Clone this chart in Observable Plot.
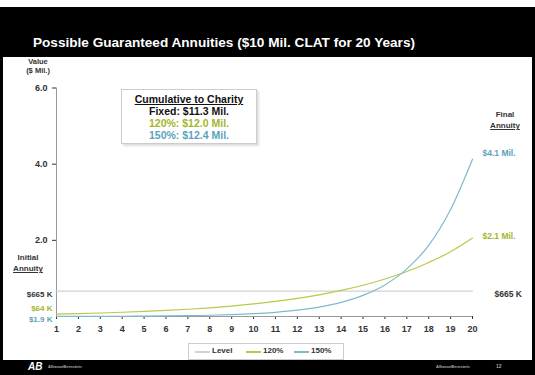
<!DOCTYPE html>
<html><head><meta charset="utf-8">
<script src="https://cdn.jsdelivr.net/npm/d3@7"></script>
<script src="https://cdn.jsdelivr.net/npm/@observablehq/plot@0.6"></script>
<style>
body{margin:0;background:#fff;font-family:"Liberation Sans",Arial,sans-serif;}
#frame{position:absolute;left:0;top:7px;width:535px;height:368px;background:#000;}
#title{position:absolute;left:33px;top:28px;color:#fff;font-weight:bold;font-size:13.6px;white-space:nowrap;}
#panel{position:absolute;left:3px;top:57px;width:529px;height:303px;background:#fff;}
.t{position:absolute;font-weight:bold;white-space:nowrap;line-height:1;}
#box{position:absolute;left:118px;top:32px;width:136px;height:55px;border:1px solid #ccc;box-shadow:2px 2px 2px #ddd;background:#fff;text-align:center;font-weight:bold;font-size:10.5px;line-height:12px;padding-top:3px;box-sizing:border-box;}
#legend{position:absolute;left:185px;top:286px;width:154px;height:15px;border:1px solid #ccc;font-size:8px;font-weight:bold;color:#333;}
.sw{position:absolute;top:7px;width:15px;height:1.5px;}
#foot{position:absolute;left:0;top:353px;width:535px;height:15px;}
</style></head>
<body>
<div id="frame">
  <div id="title"></div>
  <div id="foot">
    <div class="t" style="left:28px;top:2px;color:#fff;font-size:10px;font-style:italic;">AB</div>
    <div class="t" style="left:48px;top:5px;color:#aaa;font-size:4px;">AllianceBernstein</div>
    <div class="t" style="left:436px;top:5px;color:#aaa;font-size:4px;">AllianceBernstein</div>
    <div class="t" style="left:496px;top:4px;color:#aaa;font-size:5px;">12</div>
  </div>
</div>
<div id="panel"></div>
<script>
const titleText = "Possible Guaranteed Annuities ($10 Mil. CLAT for 20 Years)";
const years = [1,2,3,4,5,6,7,8,9,10,11,12,13,14,15,16,17,18,19,20];
const level = 0.665;
const ann120 = [0.064,0.077,0.092,0.111,0.133,0.159,0.191,0.229,0.275,0.330,0.396,0.475,0.570,0.684,0.821,0.985,1.18,1.42,1.70,2.06];
const ann150 = [0.0019,0.0029,0.0043,0.0064,0.0096,0.0144,0.0216,0.0325,0.049,0.073,0.110,0.165,0.247,0.370,0.555,0.83,1.25,1.87,2.81,4.13];
const yTicks = [2,4,6];
const seriesNames = ["Level","120%","150%"];
const colors = ["#d2d2d2","#bcc84a","#7fbacb"];
const labelColors = ["#333","#a3b52c","#5aa3bb"];
const initialLabels = ["$665 K","$64 K","$1.9 K"];
const finalLabels = ["$665 K","$2.1 Mil.","$4.1 Mil."];
const charityLines = ["Fixed: $11.3 Mil.","120%: $12.0 Mil.","150%: $12.4 Mil."];

document.getElementById("title").textContent = titleText;

const rows = years.flatMap((y,i)=>[
  {year:y,v:level,s:"Level"},{year:y,v:ann120[i],s:"120%"},{year:y,v:ann150[i],s:"150%"}]);
const last = years.length-1;
const startVals = [level, ann120[0], ann150[0]];
const endVals = [level, ann120[last], ann150[last]];
const startDy = [3,-6,3];
const endDy = [3,-2,-6];

const font = "Liberation Sans, Arial, sans-serif";
const labelMarks = [0,1,2].flatMap(i=>[
  Plot.text([startVals[i]],{x:()=>years[0],y:d=>d,text:()=>initialLabels[i],dx:-4,dy:startDy[i],textAnchor:"end",fill:labelColors[i],fontSize:8}),
  Plot.text([endVals[i]],{x:()=>years[last],y:d=>d,text:()=>finalLabels[i],dx:i===0?22:10,dy:endDy[i],textAnchor:"start",fill:labelColors[i],fontSize:8.5})
]);
const plot = Plot.plot({
  width:529, height:283,
  marginLeft:53, marginRight:60, marginTop:30.5, marginBottom:24,
  style:{fontFamily:font, fontSize:"9px", fontWeight:"bold", color:"#333", background:"#fff"},
  x:{domain:[1,20], ticks:years, tickFormat:d=>d, tickSize:3, label:null},
  y:{domain:[0,6], ticks:yTicks, tickFormat:d3.format(".1f"), tickSize:4, label:null},
  marks:[
    Plot.ruleX([years[0]],{y1:0,y2:6,stroke:"#999"}),
    Plot.ruleY([0],{x1:years[0],x2:years[last],stroke:"#999"}),
    Plot.line(rows.filter(d=>d.s==="Level"),{x:"year",y:"v",stroke:colors[0],strokeWidth:1.2}),
    Plot.line(rows.filter(d=>d.s==="120%"),{x:"year",y:"v",stroke:colors[1],strokeWidth:1.2,curve:"monotone-x"}),
    Plot.line(rows.filter(d=>d.s==="150%"),{x:"year",y:"v",stroke:colors[2],strokeWidth:1.2,curve:"monotone-x"}),
    ...labelMarks
  ]
});
const panel = document.getElementById("panel");
panel.appendChild(plot);

function addText(txt,left,top,size,extra){
  const d=document.createElement("div");d.className="t";d.textContent=txt;
  d.style.left=left+"px";d.style.top=top+"px";d.style.fontSize=size+"px";d.style.color="#333";
  if(extra) Object.assign(d.style,extra);
  panel.appendChild(d);return d;
}
function addCenter(txt,cx,top,size,extra){
  const d=addText(txt,cx,top,size,extra);d.style.transform="translateX(-50%)";return d;
}
addCenter("Value",35,1,7.5);
addCenter("($ Mil.)",35,10,7.5);
addCenter("Initial",25,197,8);
addCenter("Annuity",25,208,8,{textDecoration:"underline"});
addCenter("Final",502,54,8);
addCenter("Annuity",502,65,8,{textDecoration:"underline"});

const box=document.createElement("div");box.id="box";
const h=document.createElement("div");h.textContent="Cumulative to Charity";h.style.textDecoration="underline";h.style.color="#111";box.appendChild(h);
charityLines.forEach((t,i)=>{const d=document.createElement("div");d.textContent=t;d.style.color=labelColors[i]==="#333"?"#111":labelColors[i];box.appendChild(d);});
panel.appendChild(box);

const lg=document.createElement("div");lg.id="legend";
const pos=[[6,22],[57,74],[105,122]];
seriesNames.forEach((n,i)=>{
  const s=document.createElement("div");s.className="sw";s.style.left=pos[i][0]+"px";s.style.background=colors[i];lg.appendChild(s);
  const t=document.createElement("div");t.className="t";t.textContent=n;t.style.left=(pos[i][0]+17)+"px";t.style.top="3px";lg.appendChild(t);
});
panel.appendChild(lg);
</script>
</body></html>
